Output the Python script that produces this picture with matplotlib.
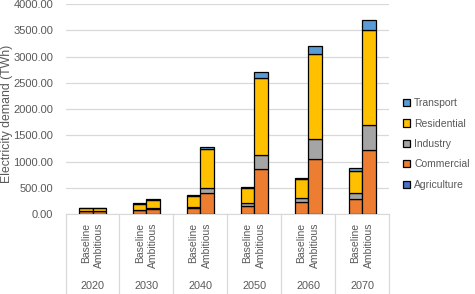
import numpy as np
import matplotlib
matplotlib.use('Agg')
import matplotlib.pyplot as plt
from matplotlib.patches import Patch
import matplotlib.transforms as mtransforms

years = ['2020', '2030', '2040', '2050', '2060', '2070']
scenarios = ['Baseline', 'Ambitious']
sectors = ['Agriculture', 'Commercial', 'Industry', 'Residential', 'Transport']
colors = ['#4472C4', '#ED7D31', '#A5A5A5', '#FFC000', '#5B9BD5']

# TWh, one value per year
agri_base = [1, 1, 2, 2, 3, 3]
comm_base = [55, 70, 108, 160, 225, 285]
ind_base = [5, 12, 25, 45, 80, 120]
res_base = [50, 115, 210, 285, 355, 415]
trans_base = [1, 5, 10, 30, 30, 50]

agri_amb = [1, 1, 3, 3, 4, 5]
comm_amb = [55, 100, 395, 850, 1040, 1220]
ind_amb = [5, 15, 105, 280, 380, 470]
res_amb = [50, 160, 740, 1460, 1630, 1815]
trans_amb = [1, 5, 40, 115, 155, 195]

base = [agri_base, comm_base, ind_base, res_base, trans_base]
amb = [agri_amb, comm_amb, ind_amb, res_amb, trans_amb]

plt.rcParams['font.family'] = ['Liberation Sans', 'DejaVu Sans']
fig = plt.figure(figsize=(4.75, 2.94), dpi=100)
ax = fig.add_axes([0.138, 0.272, 0.681, 0.714])

x = np.arange(len(years))
w = 0.25
for off, data in [(-w / 2, base), (w / 2, amb)]:
    bottom = np.zeros(len(years))
    for vals, c in zip(data, colors):
        ax.bar(x + off, vals, w, bottom=bottom, color=c, edgecolor='black',
               linewidth=0.9, zorder=3)
        bottom += np.array(vals)

ax.set_xlim(-0.5, len(years) - 0.5)
ax.set_ylim(0, 4000)
ax.set_yticks(np.arange(0, 4001, 500))
ax.set_yticklabels([f'{v:.2f}' for v in np.arange(0, 4001, 500)])
ax.tick_params(axis='y', length=0, labelsize=8, labelcolor='#595959', pad=9)
ax.set_xticks([])
ax.grid(axis='y', color='#D9D9D9', linewidth=0.9, zorder=0)
for s in ['left', 'right', 'top']:
    ax.spines[s].set_visible(False)
ax.spines['bottom'].set_color('#D9D9D9')
fig.text(0.014, 0.614, 'Electricity demand (TWh)', rotation=90, ha='center',
         va='center', fontsize=8.8, color='#595959')

# multi-level category axis
trans = mtransforms.blended_transform_factory(ax.transData, ax.transAxes)
for i, yr in enumerate(years):
    for off, sc in zip([-w / 2, w / 2], scenarios):
        ax.text(i + off, -0.04, sc, rotation=90, ha='center', va='top',
                fontsize=7.5, color='#595959', transform=trans)
    ax.text(i, -0.343, yr, ha='center', va='center', fontsize=7.8,
            color='#595959', transform=trans)
for b in np.arange(-0.5, len(years), 1.0):
    ax.plot([b, b], [0, -0.39], color='#D9D9D9', linewidth=0.9,
            transform=trans, clip_on=False)

handles = [Patch(facecolor=c, edgecolor='black', linewidth=0.9) for c in colors]
leg = fig.legend(handles[::-1], sectors[::-1], loc='center left',
                 bbox_to_anchor=(0.829, 0.51), frameon=False, fontsize=7.5,
                 handlelength=0.7, handleheight=0.7, handletextpad=0.35,
                 labelspacing=1.0)
for t in leg.get_texts():
    t.set_color('#595959')

fig.savefig('out.png', dpi=100)
